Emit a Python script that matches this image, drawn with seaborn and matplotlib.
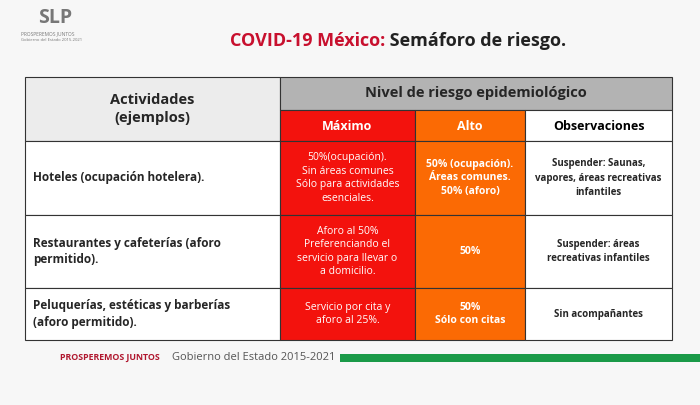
import matplotlib
matplotlib.use('Agg')
import matplotlib.pyplot as plt
import seaborn as sns
import numpy as np
from matplotlib.patches import Rectangle

sns.set_style('white')
plt.rcParams['font.family'] = ['Open Sans', 'DejaVu Sans']

# table content
titulo_rojo = 'COVID-19 México:'
titulo_negro = ' Semáforo de riesgo.'
niveles = ['Máximo', 'Alto', 'Observaciones']
actividades = ['Hoteles (ocupación hotelera).',
               'Restaurantes y cafeterías (aforo\npermitido).',
               'Peluquerías, estéticas y barberías\n(aforo permitido).']
maximo = ['50%(ocupación).\nSin áreas comunes\nSólo para actividades\nesenciales.',
          'Aforo al 50%\nPreferenciando el\nservicio para llevar o\na domicilio.',
          'Servicio por cita y\naforo al 25%.']
alto = ['50% (ocupación).\nÁreas comunes.\n50% (aforo)', '50%', '50%\nSólo con citas']
observaciones = ['Suspender: Saunas,\nvapores, áreas recreativas\ninfantiles',
                 'Suspender: áreas\nrecreativas infantiles',
                 'Sin acompañantes']

cols = [25, 280, 415, 525, 672]
rows = [141, 215, 288, 340]
colores = ['white', '#f3120d', '#fb6a04', 'white']

fig = plt.figure(figsize=(7, 4.05), dpi=100)
ax = fig.add_axes([0, 0, 1, 1])
ax.set_xlim(0, 700)
ax.set_ylim(405, 0)
ax.axis('off')
fig.patch.set_facecolor('#f7f7f7')

def cell(x0, y0, x1, y1, fc):
    ax.add_patch(Rectangle((x0, y0), x1 - x0, y1 - y0, facecolor=fc, edgecolor='#333333', lw=0.8))

# header
cell(25, 77, 280, 141, '#ececec')
cell(280, 77, 672, 110, '#b3b3b3')
ax.text(152, 109, 'Actividades\n(ejemplos)', ha='center', va='center', fontsize=10.5, fontweight='bold', linespacing=1.3)
ax.text(476, 93.5, 'Nivel de riesgo epidemiológico', ha='center', va='center', fontsize=10.5, fontweight='bold')
for j, nombre in enumerate(niveles):
    cell(cols[j + 1], 110, cols[j + 2], 141, colores[j + 1])
    c = 'black' if j == 2 else 'white'
    ax.text((cols[j + 1] + cols[j + 2]) / 2, 126, nombre, ha='center', va='center', fontsize=9, fontweight='bold', color=c)

# body
y0 = 141
for i, y1 in enumerate(rows[1:]):
    textos = [actividades[i], maximo[i], alto[i], observaciones[i]]
    for j in range(4):
        cell(cols[j], y0, cols[j + 1], y1, colores[j])
        ym = (y0 + y1) / 2
        if j == 0:
            ax.text(cols[0] + 8, ym, textos[j], ha='left', va='center', fontsize=8.5, fontweight='bold', linespacing=1.4)
        elif j == 3:
            ax.text((cols[j] + cols[j + 1]) / 2, ym, textos[j], ha='center', va='center', fontsize=7, fontweight='bold', linespacing=1.4)
        elif j == 1:
            ax.text((cols[j] + cols[j + 1]) / 2, ym, textos[j], ha='center', va='center', fontsize=7.5, color='white', linespacing=1.3)
        else:
            ax.text((cols[j] + cols[j + 1]) / 2, ym, textos[j], ha='center', va='center', fontsize=7.5, color='white', fontweight='bold', linespacing=1.3)
    y0 = y1

# title
t = ax.text(230, 41, titulo_rojo, ha='left', va='center', fontsize=13, fontweight='bold', color='#c8102e')
fig.canvas.draw()
bb = t.get_window_extent()
ax.text(230 + bb.width, 41, titulo_negro, ha='left', va='center', fontsize=13, fontweight='bold', color='#222222')

# logo
ax.text(38, 18, 'SLP', ha='left', va='center', fontsize=14, fontweight='bold', color='#777777')
ax.text(21, 34, 'PROSPEREMOS JUNTOS', ha='left', va='center', fontsize=3.5, color='#777777')
ax.text(21, 40, 'Gobierno del Estado 2015-2021', ha='left', va='center', fontsize=3, color='#777777')

# footer
ax.text(60, 358, 'PROSPEREMOS JUNTOS', ha='left', va='center', fontsize=6.3, fontweight='bold', color='#b0172e')
ax.text(172, 358, 'Gobierno del Estado 2015-2021', ha='left', va='center', fontsize=8, color='#555555')
ax.add_patch(Rectangle((340, 354), 360, 8, facecolor='#1a9a48', edgecolor='none'))

fig.savefig('out.png', dpi=100, facecolor=fig.get_facecolor())
